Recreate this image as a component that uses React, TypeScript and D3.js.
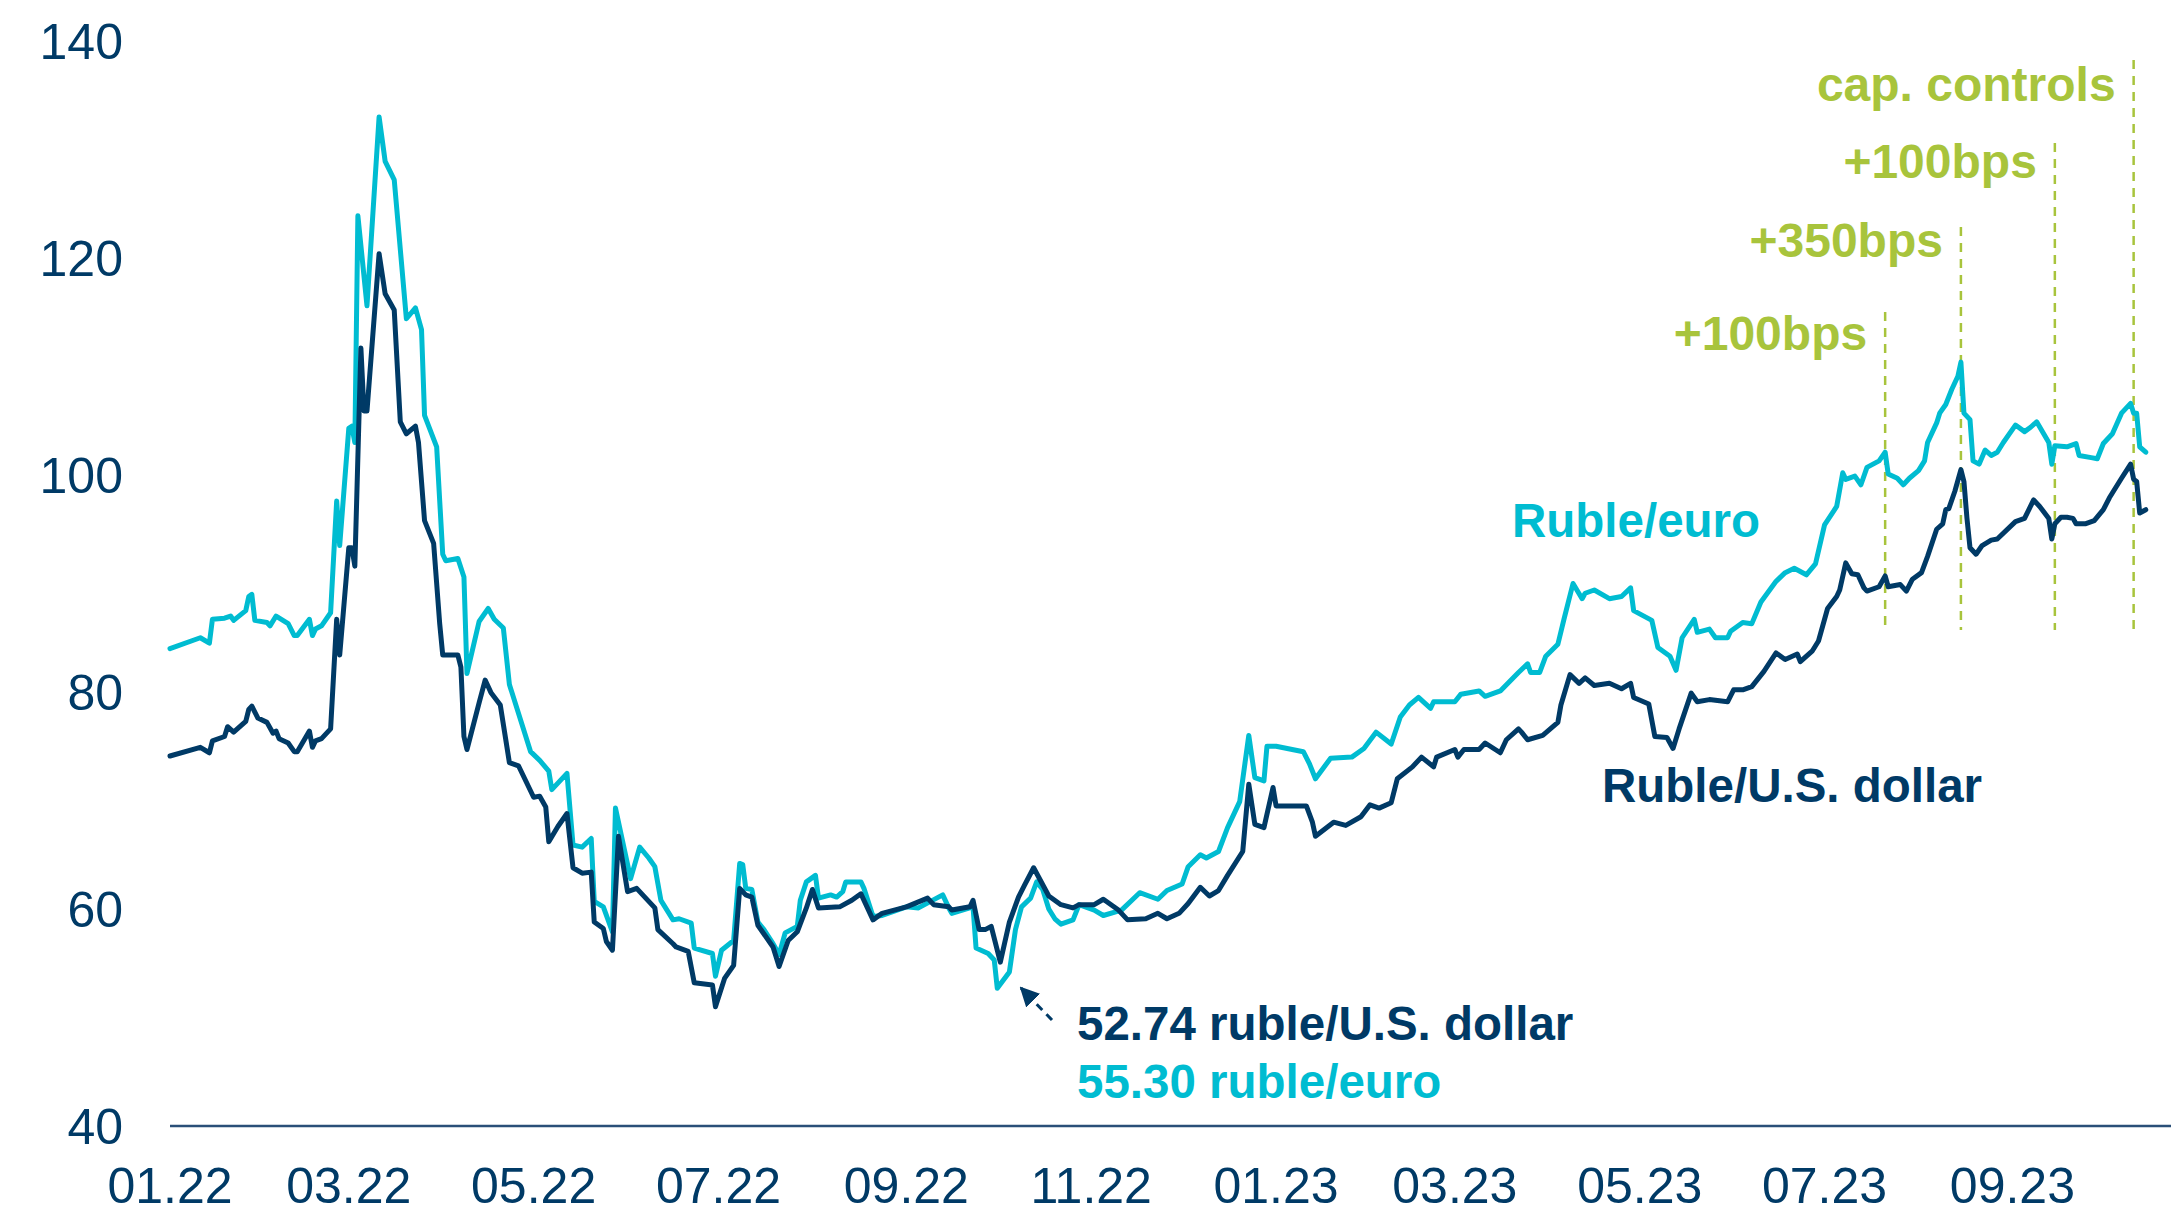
import * as d3 from "d3";

// Ruble/U.S. dollar
const usdDates = [
  "2022-01-01","2022-01-11","2022-01-14","2022-01-15","2022-01-19","2022-01-20","2022-01-22","2022-01-26","2022-01-27","2022-01-28",
  "2022-01-30","2022-02-02","2022-02-04","2022-02-05","2022-02-06","2022-02-09","2022-02-11","2022-02-12","2022-02-16","2022-02-17",
  "2022-02-18","2022-02-20","2022-02-23","2022-02-25","2022-02-26","2022-03-01","2022-03-02","2022-03-03","2022-03-05","2022-03-06",
  "2022-03-07","2022-03-11","2022-03-13","2022-03-16","2022-03-18","2022-03-20","2022-03-23","2022-03-24","2022-03-26","2022-03-29",
  "2022-03-31","2022-04-01","2022-04-06","2022-04-07","2022-04-08","2022-04-09","2022-04-13","2022-04-15","2022-04-17","2022-04-20",
  "2022-04-23","2022-04-26","2022-05-01","2022-05-03","2022-05-05","2022-05-06","2022-05-09","2022-05-12","2022-05-14","2022-05-17",
  "2022-05-20","2022-05-21","2022-05-24","2022-05-25","2022-05-27","2022-05-29","2022-06-01","2022-06-04","2022-06-08","2022-06-10",
  "2022-06-11","2022-06-16","2022-06-17","2022-06-21","2022-06-23","2022-06-29","2022-06-30","2022-07-03","2022-07-06","2022-07-08",
  "2022-07-10","2022-07-12","2022-07-14","2022-07-19","2022-07-21","2022-07-24","2022-07-27","2022-07-30","2022-08-01","2022-08-03",
  "2022-08-10","2022-08-14","2022-08-17","2022-08-21","2022-08-24","2022-09-01","2022-09-08","2022-09-10","2022-09-15","2022-09-16",
  "2022-09-22","2022-09-23","2022-09-25","2022-09-27","2022-09-29","2022-10-02","2022-10-05","2022-10-08","2022-10-10","2022-10-13",
  "2022-10-18","2022-10-22","2022-10-26","2022-10-28","2022-11-02","2022-11-05","2022-11-10","2022-11-13","2022-11-19","2022-11-23",
  "2022-11-26","2022-11-30","2022-12-03","2022-12-07","2022-12-10","2022-12-13","2022-12-16","2022-12-21","2022-12-23","2022-12-25",
  "2022-12-28","2022-12-31","2023-01-01","2023-01-11","2023-01-13","2023-01-14","2023-01-20","2023-01-24","2023-01-29","2023-02-01",
  "2023-02-04","2023-02-08","2023-02-10","2023-02-15","2023-02-18","2023-02-22","2023-02-23","2023-03-01","2023-03-02","2023-03-04",
  "2023-03-09","2023-03-11","2023-03-16","2023-03-18","2023-03-22","2023-03-23","2023-03-25","2023-03-30","2023-04-04","2023-04-05",
  "2023-04-08","2023-04-11","2023-04-13","2023-04-16","2023-04-21","2023-04-25","2023-04-28","2023-04-29","2023-05-04","2023-05-06",
  "2023-05-10","2023-05-12","2023-05-14","2023-05-18","2023-05-20","2023-05-24","2023-05-30","2023-06-01","2023-06-04","2023-06-07",
  "2023-06-11","2023-06-15","2023-06-18","2023-06-22","2023-06-23","2023-06-27","2023-06-29","2023-07-02","2023-07-05","2023-07-06",
  "2023-07-08","2023-07-10","2023-07-12","2023-07-14","2023-07-15","2023-07-19","2023-07-21","2023-07-22","2023-07-26","2023-07-28",
  "2023-07-30","2023-08-02","2023-08-04","2023-08-07","2023-08-09","2023-08-10","2023-08-11","2023-08-13","2023-08-15","2023-08-16",
  "2023-08-17","2023-08-18","2023-08-20","2023-08-22","2023-08-25","2023-08-27","2023-09-02","2023-09-05","2023-09-08","2023-09-10",
  "2023-09-13","2023-09-14","2023-09-15","2023-09-17","2023-09-19","2023-09-21","2023-09-22","2023-09-25","2023-09-28","2023-10-01",
  "2023-10-03","2023-10-05","2023-10-07","2023-10-10","2023-10-11","2023-10-12","2023-10-13","2023-10-15",
];
const usdValues = [
  74.1, 74.9, 74.4, 75.5, 75.9, 76.8, 76.3, 77.3, 78.4, 78.7,
  77.6, 77.2, 76.2, 76.4, 75.7, 75.3, 74.5, 74.5, 76.4, 74.9,
  75.5, 75.7, 76.6, 86.7, 83.4, 93.3, 93.3, 91.6, 111.7, 105.9,
  105.9, 120.4, 116.7, 115.2, 104.9, 103.8, 104.5, 103.0, 95.8, 93.7,
  86.3, 83.4, 83.4, 82.3, 75.9, 74.7, 79.0, 81.1, 79.9, 78.8,
  73.5, 73.2, 70.3, 70.4, 69.4, 66.2, 67.6, 68.8, 63.8, 63.3,
  63.4, 58.8, 58.2, 57.0, 56.2, 66.7, 61.6, 61.9, 60.7, 60.1,
  58.1, 56.8, 56.5, 56.1, 53.2, 53.0, 51.0, 53.6, 54.8, 61.9,
  61.3, 61.1, 58.5, 56.5, 54.7, 57.1, 57.9, 60.1, 61.8, 60.1,
  60.2, 60.8, 61.4, 59.0, 59.6, 60.2, 61.0, 60.4, 60.2, 59.9,
  60.2, 60.8, 58.1, 58.1, 58.4, 55.1, 58.8, 61.1, 62.2, 63.8,
  61.2, 60.4, 60.1, 60.4, 60.4, 60.9, 59.9, 59.0, 59.1, 59.6,
  59.1, 59.6, 60.5, 62.0, 61.2, 61.7, 63.1, 65.3, 71.5, 67.8,
  67.5, 71.2, 69.5, 69.5, 68.0, 66.7, 68.0, 67.7, 68.5, 69.6,
  69.3, 69.8, 72.0, 73.1, 74.0, 73.1, 74.0, 74.7, 74.0, 74.7,
  74.7, 75.3, 74.4, 75.6, 76.6, 76.3, 75.6, 76.0, 77.2, 78.8,
  81.6, 80.8, 81.3, 80.6, 80.8, 80.3, 80.8, 79.5, 78.9, 75.9,
  75.8, 74.8, 76.6, 79.9, 79.1, 79.3, 79.1, 80.2, 80.2, 80.5,
  81.9, 83.6, 83.0, 83.5, 82.8, 83.8, 84.7, 87.7, 88.8, 89.4,
  91.9, 90.9, 90.8, 89.6, 89.3, 89.7, 90.7, 89.7, 89.9, 89.3,
  90.4, 91.0, 92.5, 95.0, 95.5, 96.8, 96.9, 98.5, 100.5, 99.4,
  96.0, 93.3, 92.7, 93.5, 94.0, 94.1, 95.7, 96.0, 97.7, 97.1,
  96.0, 94.1, 95.5, 96.1, 96.1, 96.0, 95.5, 95.5, 95.8, 96.8,
  97.9, 98.8, 99.7, 101.0, 99.6, 99.4, 96.5, 96.8,
];

// Ruble/euro
const eurDates = [
  "2022-01-01","2022-01-11","2022-01-14","2022-01-15","2022-01-19","2022-01-21","2022-01-22","2022-01-26","2022-01-27","2022-01-28",
  "2022-01-29","2022-02-02","2022-02-03","2022-02-05","2022-02-09","2022-02-11","2022-02-12","2022-02-16","2022-02-17","2022-02-18",
  "2022-02-20","2022-02-23","2022-02-25","2022-02-26","2022-03-01","2022-03-02","2022-03-03","2022-03-04","2022-03-07","2022-03-11",
  "2022-03-13","2022-03-16","2022-03-20","2022-03-23","2022-03-25","2022-03-26","2022-03-30","2022-04-01","2022-04-02","2022-04-06",
  "2022-04-08","2022-04-09","2022-04-13","2022-04-16","2022-04-18","2022-04-21","2022-04-23","2022-04-30","2022-05-03","2022-05-06",
  "2022-05-07","2022-05-12","2022-05-14","2022-05-17","2022-05-20","2022-05-21","2022-05-24","2022-05-27","2022-05-28","2022-06-02",
  "2022-06-05","2022-06-08","2022-06-10","2022-06-12","2022-06-16","2022-06-18","2022-06-22","2022-06-23","2022-06-29","2022-06-30",
  "2022-07-02","2022-07-06","2022-07-08","2022-07-09","2022-07-10","2022-07-12","2022-07-14","2022-07-16","2022-07-19","2022-07-21",
  "2022-07-23","2022-07-27","2022-07-28","2022-07-30","2022-08-02","2022-08-03","2022-08-07","2022-08-09","2022-08-11","2022-08-12",
  "2022-08-17","2022-08-18","2022-08-21","2022-08-24","2022-08-28","2022-09-01","2022-09-05","2022-09-09","2022-09-13","2022-09-15",
  "2022-09-16","2022-09-23","2022-09-24","2022-09-28","2022-09-30","2022-10-01","2022-10-05","2022-10-07","2022-10-09","2022-10-12",
  "2022-10-14","2022-10-16","2022-10-18","2022-10-20","2022-10-22","2022-10-26","2022-10-28","2022-11-02","2022-11-05","2022-11-11",
  "2022-11-17","2022-11-23","2022-11-26","2022-12-01","2022-12-03","2022-12-07","2022-12-09","2022-12-13","2022-12-16","2022-12-20",
  "2022-12-23","2022-12-25","2022-12-28","2022-12-29","2023-01-01","2023-01-10","2023-01-12","2023-01-14","2023-01-19","2023-01-26",
  "2023-01-30","2023-02-03","2023-02-08","2023-02-11","2023-02-14","2023-02-17","2023-02-21","2023-02-22","2023-03-01","2023-03-03",
  "2023-03-09","2023-03-11","2023-03-16","2023-03-22","2023-03-25","2023-03-26","2023-03-29","2023-03-31","2023-04-04","2023-04-06",
  "2023-04-09","2023-04-12","2023-04-13","2023-04-16","2023-04-21","2023-04-25","2023-04-28","2023-04-29","2023-05-05","2023-05-07",
  "2023-05-11","2023-05-13","2023-05-15","2023-05-19","2023-05-20","2023-05-24","2023-05-26","2023-05-30","2023-05-31","2023-06-04",
  "2023-06-07","2023-06-10","2023-06-15","2023-06-18","2023-06-21","2023-06-25","2023-06-28","2023-07-01","2023-07-05","2023-07-07",
  "2023-07-08","2023-07-11","2023-07-13","2023-07-15","2023-07-19","2023-07-21","2023-07-22","2023-07-25","2023-07-27","2023-07-29",
  "2023-08-01","2023-08-03","2023-08-04","2023-08-07","2023-08-08","2023-08-10","2023-08-12","2023-08-14","2023-08-15","2023-08-16",
  "2023-08-18","2023-08-19","2023-08-21","2023-08-23","2023-08-25","2023-08-27","2023-08-29","2023-09-02","2023-09-05","2023-09-07",
  "2023-09-09","2023-09-13","2023-09-14","2023-09-15","2023-09-19","2023-09-22","2023-09-23","2023-09-27","2023-09-29","2023-10-01",
  "2023-10-04","2023-10-07","2023-10-10","2023-10-11","2023-10-12","2023-10-13","2023-10-15",
];
const eurValues = [
  84.0, 85.0, 84.5, 86.7, 86.8, 87.0, 86.6, 87.5, 88.8, 89.0,
  86.6, 86.4, 86.1, 87.0, 86.3, 85.2, 85.2, 86.7, 85.2, 85.8,
  86.1, 87.3, 97.6, 93.5, 104.3, 104.5, 103.0, 123.9, 115.6, 133.0,
  128.9, 127.2, 114.4, 115.4, 113.4, 105.5, 102.6, 92.7, 92.1, 92.3,
  90.6, 81.7, 86.5, 87.7, 86.7, 85.9, 80.7, 74.5, 73.7, 72.7,
  71.0, 72.5, 65.9, 65.7, 66.5, 60.7, 60.2, 57.9, 69.3, 62.8,
  65.7, 64.7, 63.9, 60.8, 59.0, 59.1, 58.7, 56.4, 55.9, 53.8,
  56.2, 57.1, 64.2, 64.1, 61.9, 61.8, 58.8, 58.1, 56.8, 55.8,
  57.8, 58.4, 60.8, 62.5, 63.1, 61.0, 61.3, 61.1, 61.6, 62.5,
  62.5, 61.9, 59.3, 59.4, 59.8, 60.2, 60.1, 60.7, 61.3, 60.1,
  59.6, 60.2, 56.4, 55.9, 55.3, 52.7, 54.2, 58.1, 60.2, 61.0,
  62.5, 61.8, 60.0, 59.1, 58.6, 59.0, 60.4, 59.9, 59.4, 59.9,
  61.5, 60.9, 61.7, 62.3, 63.9, 65.0, 64.7, 65.3, 67.5, 69.9,
  76.0, 72.1, 71.8, 75.0, 75.0, 74.5, 73.4, 72.0, 73.9, 74.0,
  74.8, 76.3, 75.2, 77.7, 78.8, 79.5, 78.5, 79.1, 79.1, 79.8,
  80.1, 79.6, 80.1, 81.8, 82.6, 81.8, 81.8, 83.3, 84.4, 86.7,
  90.0, 88.6, 89.1, 89.4, 88.6, 88.8, 89.6, 87.5, 86.6, 84.1,
  83.3, 82.0, 85.0, 86.7, 85.5, 85.8, 85.0, 85.0, 85.6, 86.4,
  86.3, 88.3, 90.2, 91.0, 91.4, 90.8, 91.8, 95.4, 97.1, 100.2,
  99.6, 99.9, 99.1, 100.7, 101.3, 102.1, 100.1, 99.7, 99.1, 99.7,
  100.4, 101.3, 103.0, 104.8, 105.7, 106.5, 107.9, 109.1, 110.4, 105.7,
  105.1, 101.3, 101.0, 102.3, 101.8, 102.1, 103.0, 104.6, 104.0, 104.4,
  104.9, 103.0, 101.0, 102.7, 102.6, 102.9, 101.8, 101.6, 101.5, 102.9,
  103.8, 105.7, 106.6, 105.7, 105.7, 102.6, 102.1,
];

const yTicks = [40, 60, 80, 100, 120, 140];
const xTickDates = [
  "2022-01-01", "2022-03-01", "2022-05-01", "2022-07-01", "2022-09-01", "2022-11-01",
  "2023-01-01", "2023-03-01", "2023-05-01", "2023-07-01", "2023-09-01",
];

// central bank moves and capital controls
const eventDates = ["2023-07-21", "2023-08-15", "2023-09-15", "2023-10-11"];
const eventLabels = ["+100bps", "+350bps", "+100bps", "cap. controls"];
const eventTops = [312, 227, 143, 60];
const eventLabelY = [350, 257, 178, 101];

const NAVY = "#003A66";
const CYAN = "#00BCD1";
const GREEN = "#A8C43C";
const FONT = "'Liberation Sans', Arial, sans-serif";

const parse = d3.timeParse("%Y-%m-%d");
const fmt = d3.timeFormat("%m.%y");

export default function App() {
  const width = 2171;
  const height = 1215;

  const x = d3
    .scaleTime()
    .domain([parse("2022-01-01"), parse("2023-10-23")])
    .range([170, 2170]);
  const y = d3.scaleLinear().domain([40, 140]).range([1126, 41]);

  const line = d3
    .line<[Date, number]>()
    .x((d) => x(d[0]))
    .y((d) => y(d[1]));

  const usd: [Date, number][] = usdDates.map((d, i) => [parse(d)!, usdValues[i]]);
  const eur: [Date, number][] = eurDates.map((d, i) => [parse(d)!, eurValues[i]]);

  const arrowFrom = [1052, 1020];
  const arrowTo = [1021, 988];

  return (
    <svg
      width={width}
      height={height}
      style={{ position: "absolute", left: 0, top: 0, background: "#fff" }}
      fontFamily={FONT}
    >
      <defs>
        <marker id="head" viewBox="0 0 10 10" refX="9" refY="5" markerWidth="6.5" markerHeight="6.5" orient="auto">
          <path d="M0,0 L10,5 L0,10 z" fill={NAVY} />
        </marker>
      </defs>

      {/* y axis labels */}
      {yTicks.map((t) => (
        <text key={t} x={123} y={y(t) + 18} textAnchor="end" fontSize={50} fill={NAVY}>
          {t}
        </text>
      ))}

      {/* x axis */}
      <line x1={170} x2={2171} y1={y(40)} y2={y(40)} stroke="#2A4F78" strokeWidth={2.5} />
      {xTickDates.map((d) => (
        <text key={d} x={x(parse(d)!)} y={1203} textAnchor="middle" fontSize={50} fill={NAVY}>
          {fmt(parse(d)!)}
        </text>
      ))}

      {/* event markers */}
      {eventDates.map((d, i) => {
        const ex = x(parse(d)!);
        return (
          <g key={d + i}>
            <line
              x1={ex}
              x2={ex}
              y1={eventTops[i]}
              y2={630}
              stroke={GREEN}
              strokeWidth={2.5}
              strokeDasharray="9 7"
            />
            <text
              x={ex - 18}
              y={eventLabelY[i]}
              textAnchor="end"
              fontSize={48}
              fontWeight="bold"
              fill={GREEN}
            >
              {eventLabels[i]}
            </text>
          </g>
        );
      })}

      {/* series */}
      <path d={line(eur) ?? ""} fill="none" stroke={CYAN} strokeWidth={5} strokeLinejoin="round" strokeLinecap="round" />
      <path d={line(usd) ?? ""} fill="none" stroke={NAVY} strokeWidth={5} strokeLinejoin="round" strokeLinecap="round" />

      {/* series labels */}
      <text x={1512} y={537} fontSize={47.5} fontWeight="bold" fill={CYAN}>
        Ruble/euro
      </text>
      <text x={1602} y={802} fontSize={47.5} fontWeight="bold" fill={NAVY}>
        Ruble/U.S. dollar
      </text>

      {/* low-point callout */}
      <line
        x1={arrowFrom[0]}
        y1={arrowFrom[1]}
        x2={arrowTo[0]}
        y2={arrowTo[1]}
        stroke={NAVY}
        strokeWidth={3}
        strokeDasharray="8 6"
        markerEnd="url(#head)"
      />
      <text x={1077} y={1040} fontSize={47.5} fontWeight="bold" fill={NAVY}>
        52.74 ruble/U.S. dollar
      </text>
      <text x={1077} y={1098} fontSize={47.5} fontWeight="bold" fill={CYAN}>
        55.30 ruble/euro
      </text>
    </svg>
  );
}
